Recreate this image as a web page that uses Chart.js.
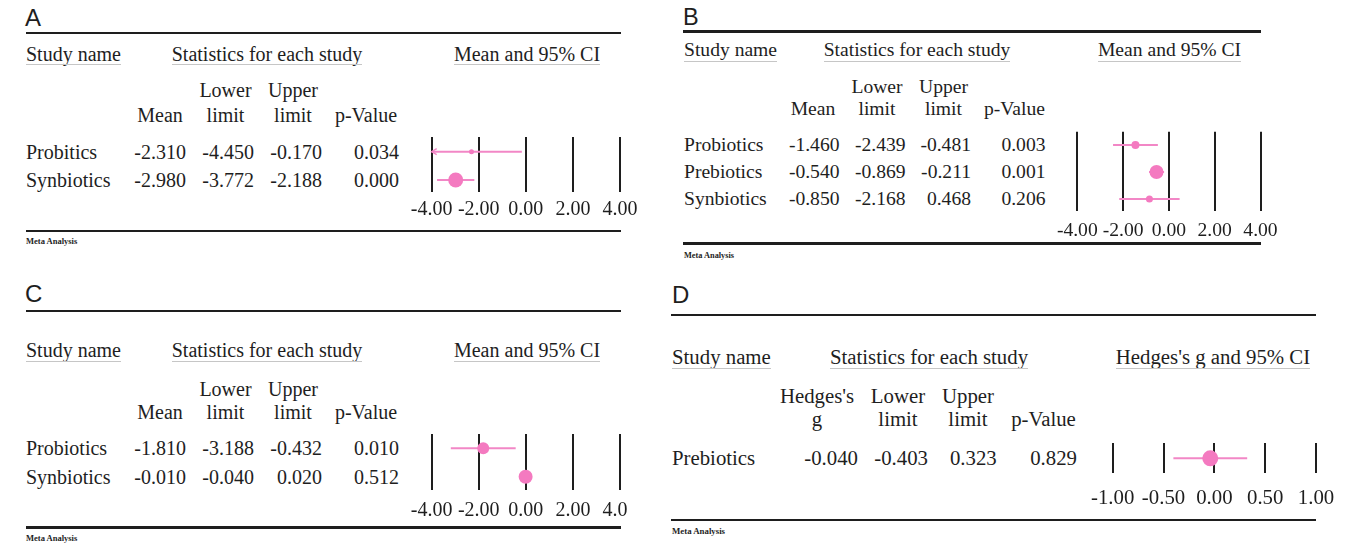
<!DOCTYPE html>
<html><head><meta charset="utf-8">
<script src="https://cdn.jsdelivr.net/npm/chart.js@4.4.1/dist/chart.umd.min.js"></script>
<style>
html,body{margin:0;padding:0;background:#fff;}
#page{position:relative;width:1351px;height:544px;overflow:hidden;background:#fff;}
.t{position:absolute;white-space:nowrap;color:#1e1e1e;font-family:"Liberation Serif","Times New Roman",serif;}
.rule{position:absolute;background:#1e1e1e;}
.ul{position:absolute;background:#c6c6c6;}
.wrap{position:absolute;left:0;top:0;overflow:hidden;}
canvas{position:absolute;}
</style></head><body><div id="page"></div>
<script>
// ---------------- data ----------------
const studiesA = ['Probitics', 'Synbiotics'];
const meanA  = [-2.310, -2.980];
const lowerA = [-4.450, -3.772];
const upperA = [-0.170, -2.188];
const pA     = [0.034, 0.000];

const studiesB = ['Probiotics', 'Prebiotics', 'Synbiotics'];
const meanB  = [-1.460, -0.540, -0.850];
const lowerB = [-2.439, -0.869, -2.168];
const upperB = [-0.481, -0.211, 0.468];
const pB     = [0.003, 0.001, 0.206];

const studiesC = ['Probiotics', 'Synbiotics'];
const meanC  = [-1.810, -0.010];
const lowerC = [-3.188, -0.040];
const upperC = [-0.432, 0.020];
const pC     = [0.010, 0.512];

const studiesD = ['Prebiotics'];
const gD     = [-0.040];
const lowerD = [-0.403];
const upperD = [0.323];
const pD     = [0.829];

const ticksMean = ['-4.00', '-2.00', '0.00', '2.00', '4.00'];
const ticksHedges = ['-1.00', '-0.50', '0.00', '0.50', '1.00'];

const hdrMean1 = ['', 'Lower', 'Upper', ''];
const hdrMean2 = ['Mean', 'limit', 'limit', 'p-Value'];
const hdrHedges1 = ["Hedges's", 'Lower', 'Upper', ''];
const hdrHedges2 = ['g', 'limit', 'limit', 'p-Value'];

// ---------------- layout (positions / styles only) ----------------
const PINK_DOT = '#f47ac0';
const PINK_LINE = '#f287c6';
const INK = '#1e1e1e';

const layA = {fs:20, letter:'A', letterX:25, letterY:17.5, letterFs:24,
  ruleX0:26, ruleX1:621, topRule:33, botRule:231, metaY:241, metaFs:8.5,
  hdrY:53.5, ulY:64.5, studyX:26, statsCx:267, ciCx:527,
  sub1Y:90, sub2Y:114.5, colHdr:[160,225.5,293,366], colNumR:[186,254,322,399],
  rowY:[151.7,180], plotL:431.7, plotR:620, plotT:137, plotB:191.7, tickPad:5.6,
  radius:[2.5,7.5], clipR:null};
const layB = {fs:19.6, letter:'B', letterX:683, letterY:17.5, letterFs:23.5,
  ruleX0:683, ruleX1:1261, topRule:31.7, botRule:243.5, metaY:256, metaFs:8.3,
  hdrY:50, ulY:61.5, studyX:684, statsCx:917, ciCx:1169.5,
  sub1Y:87, sub2Y:109, colHdr:[813,877,943.5,1014.5], colNumR:[839.5,905.6,971,1045.5],
  rowY:[145,171.7,199], plotL:1077.3, plotR:1260.5, plotT:131.7, plotB:210.7, tickPad:8.2,
  radius:[4,7,3.5], clipR:null};
const layC = {fs:20, letter:'C', letterX:25, letterY:293.5, letterFs:24,
  ruleX0:26, ruleX1:621, topRule:311, botRule:527.5, metaY:538, metaFs:8.5,
  hdrY:350, ulY:361.5, studyX:26, statsCx:267, ciCx:527,
  sub1Y:388.5, sub2Y:411.7, colHdr:[160,225.5,293,366], colNumR:[186,254,322,399],
  rowY:[448.3,476.7], plotL:431.7, plotR:620, plotT:434, plotB:490, tickPad:9,
  radius:[6,7], clipR:628};
const layD = {fs:20.8, letter:'D', letterX:672, letterY:295, letterFs:24,
  ruleX0:671, ruleX1:1316, topRule:315, botRule:520, metaY:531.7, metaFs:8.8,
  hdrY:357, ulY:368.5, studyX:672, statsCx:929, ciCx:1213,
  sub1Y:396.7, sub2Y:419.5, colHdr:[817,898,968,1043.5], colNumR:[858,928,996.7,1077],
  rowY:[458.3], plotL:1112.7, plotR:1316, plotT:443, plotB:472.7, tickPad:13,
  radius:[8], clipR:null};

const page = document.getElementById('page');

function txt(s, x, y, fs, align, extra) {
  const d = document.createElement('div');
  d.className = 't';
  d.textContent = s;
  d.style.fontSize = fs + 'px';
  d.style.lineHeight = fs + 'px';
  d.style.top = (y - fs / 2) + 'px';
  d.style.left = x + 'px';
  if (align === 'center') d.style.transform = 'translateX(-50%)';
  else if (align === 'right') d.style.transform = 'translateX(-100%)';
  if (extra) Object.assign(d.style, extra);
  page.appendChild(d);
  return d;
}
function rule(x0, x1, y, th, cls) {
  const r = document.createElement('div');
  r.className = cls || 'rule';
  r.style.left = x0 + 'px';
  r.style.width = (x1 - x0) + 'px';
  r.style.top = (y - th / 2) + 'px';
  r.style.height = th + 'px';
  page.appendChild(r);
}
function underline(el, y) {
  const pr = page.getBoundingClientRect();
  const r = el.getBoundingClientRect();
  rule(r.left - pr.left, r.right - pr.left, y, 1.6, 'ul');
}

const arrowPlugin = {
  id: 'ciArrow',
  afterDatasetsDraw(chart, args, opts) {
    const {ctx, chartArea} = chart;
    const xs = chart.scales.x, ys = chart.scales.y;
    (opts.lower || []).forEach((lo, i) => {
      if (lo < xs.min) {
        const yy = ys.getPixelForValue(i + 1);
        const xx = chartArea.left;
        ctx.save();
        ctx.strokeStyle = PINK_LINE;
        ctx.lineWidth = 1.4;
        ctx.beginPath();
        ctx.moveTo(xx + 5, yy - 3);
        ctx.lineTo(xx, yy);
        ctx.lineTo(xx + 5, yy + 3);
        ctx.stroke();
        ctx.restore();
      }
    });
  }
};

function panel(L, studies, est, lo, hi, pv, h1, h2, ciTitle, tickLabels, xmin, xmax, step) {
  // letter
  txt(L.letter, L.letterX, L.letterY, L.letterFs, 'left', {fontFamily: '"Liberation Sans", Arial, sans-serif'});
  // rules
  rule(L.ruleX0, L.ruleX1, L.topRule, 2.6);
  rule(L.ruleX0, L.ruleX1, L.botRule, 2.6);
  txt('Meta Analysis', L.studyX, L.metaY, L.metaFs, 'left', {fontWeight: 'bold'});
  // headers
  underline(txt('Study name', L.studyX, L.hdrY, L.fs, 'left'), L.ulY);
  underline(txt('Statistics for each study', L.statsCx, L.hdrY, L.fs, 'center'), L.ulY);
  underline(txt(ciTitle, L.ciCx, L.hdrY, L.fs, 'center'), L.ulY);
  h1.forEach((s, j) => { if (s) txt(s, L.colHdr[j], L.sub1Y, L.fs, 'center'); });
  h2.forEach((s, j) => { if (s) txt(s, L.colHdr[j], L.sub2Y, L.fs, 'center'); });
  // rows
  studies.forEach((s, i) => {
    const y = L.rowY[i];
    txt(s, L.studyX, y, L.fs, 'left');
    [est[i], lo[i], hi[i], pv[i]].forEach((v, j) => txt(v.toFixed(3), L.colNumR[j], y, L.fs, 'right'));
  });

  // chart
  const n = studies.length;
  const ppu = n > 1 ? (L.rowY[n - 1] - L.rowY[0]) / (n - 1) : 30;
  const ymin = 1 - (L.rowY[0] - L.plotT) / ppu;
  const ymax = n + (L.plotB - L.rowY[n - 1]) / ppu;
  const axisH = 48;
  const left = Math.floor(L.plotL - 45);
  const top = Math.floor(L.plotT - 14);
  const right = Math.ceil(L.plotR + 45);
  const w = right - left;
  const bottom = Math.ceil(L.plotB + axisH);
  const h = bottom - top;
  const padB = bottom - (L.plotB + axisH);
  const cv = document.createElement('canvas');
  cv.width = w; cv.height = h;
  cv.style.left = left + 'px'; cv.style.top = top + 'px';
  cv.style.width = w + 'px'; cv.style.height = h + 'px';
  if (L.clipR) {
    const wr = document.createElement('div');
    wr.className = 'wrap';
    wr.style.width = L.clipR + 'px';
    wr.style.height = '544px';
    wr.appendChild(cv);
    page.appendChild(wr);
  } else {
    page.appendChild(cv);
  }
  const datasets = [{
    label: 'estimate',
    data: est.map((v, i) => ({x: v, y: i + 1})),
    pointRadius: L.radius,
    pointHoverRadius: L.radius,
    pointBackgroundColor: PINK_DOT,
    backgroundColor: PINK_DOT,
    pointBorderWidth: 0,
    borderWidth: 0,
    order: 0
  }];
  studies.forEach((s, i) => datasets.push({
    label: s,
    type: 'line',
    data: [{x: lo[i], y: i + 1}, {x: hi[i], y: i + 1}],
    borderColor: PINK_LINE,
    borderWidth: 2,
    pointRadius: 0,
    pointHoverRadius: 0,
    fill: false,
    order: 1
  }));
  new Chart(cv, {
    type: 'scatter',
    data: {datasets},
    options: {
      responsive: false,
      animation: false,
      events: [],
      devicePixelRatio: 1,
      layout: {padding: {left: L.plotL - left, right: right - L.plotR, top: L.plotT - top, bottom: padB}},
      plugins: {legend: {display: false}, tooltip: {enabled: false}, ciArrow: {lower: lo}},
      scales: {
        x: {
          type: 'linear', position: 'bottom', min: xmin, max: xmax,
          ticks: {stepSize: step, autoSkip: false, maxRotation: 0, minRotation: 0,
            padding: L.tickPad, color: INK,
            font: {family: '"Liberation Serif", "Times New Roman", serif', size: L.fs},
            callback: (v, i) => tickLabels[i]},
          grid: {display: true, drawOnChartArea: true, drawTicks: false, color: INK, lineWidth: 2},
          border: {display: false},
          afterFit: s => { s.height = axisH; }
        },
        y: {type: 'linear', display: false, reverse: true, min: ymin, max: ymax}
      }
    },
    plugins: [arrowPlugin]
  });
}

panel(layA, studiesA, meanA, lowerA, upperA, pA, hdrMean1, hdrMean2, 'Mean and 95% CI', ticksMean, -4, 4, 2);
panel(layB, studiesB, meanB, lowerB, upperB, pB, hdrMean1, hdrMean2, 'Mean and 95% CI', ticksMean, -4, 4, 2);
panel(layC, studiesC, meanC, lowerC, upperC, pC, hdrMean1, hdrMean2, 'Mean and 95% CI', ticksMean, -4, 4, 2);
panel(layD, studiesD, gD, lowerD, upperD, pD, hdrHedges1, hdrHedges2, "Hedges's g and 95% CI", ticksHedges, -1, 1, 0.5);
</script>
</body></html>
